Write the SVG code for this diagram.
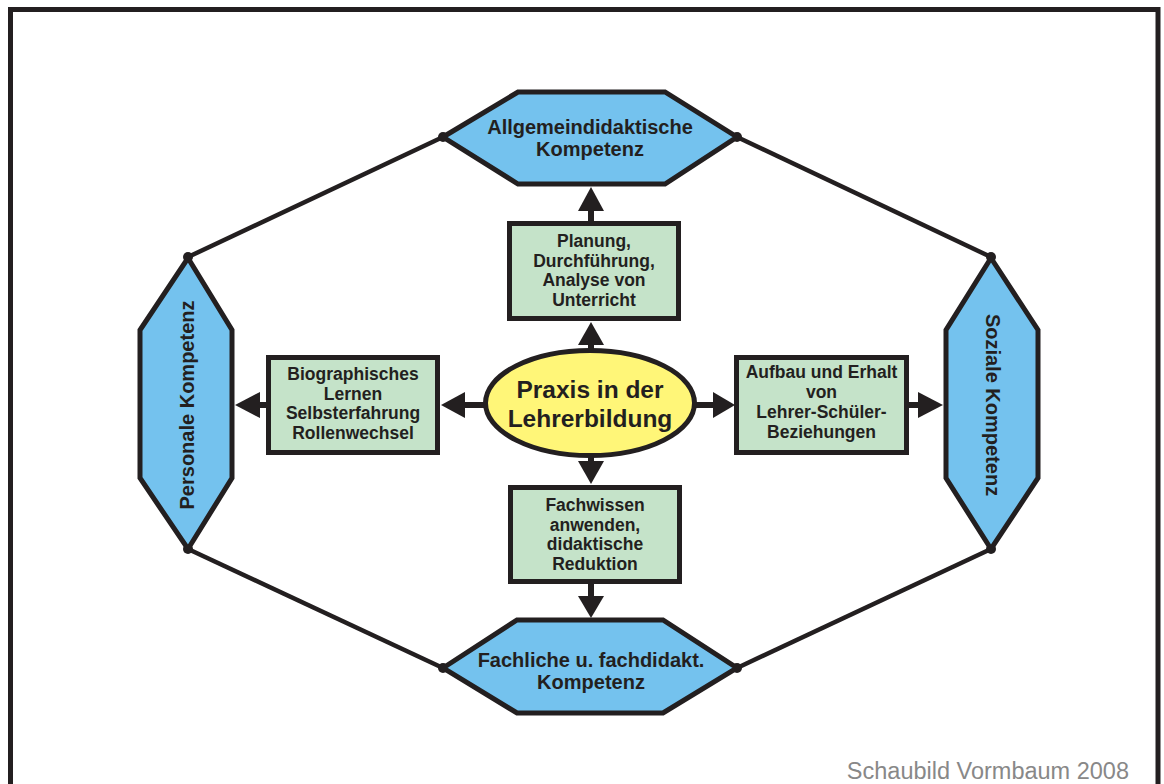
<svg xmlns="http://www.w3.org/2000/svg" width="1164" height="784" viewBox="0 0 1164 784">
<style>
.hex{fill:#74C2EE;stroke:#231F20;stroke-width:5;stroke-linejoin:miter}
.box{fill:#C5E3C9;stroke:#231F20;stroke-width:5}
.ell{fill:#FFF678;stroke:#231F20;stroke-width:5}
.t{font-family:"Liberation Sans",Arial,sans-serif;font-weight:bold;fill:#231F20;text-anchor:middle}
.hx{font-size:20px}
.bx{font-size:17.5px}
.line{stroke:#231F20;stroke-width:4.5;fill:none}
.shaft{stroke:#231F20;stroke-width:6;fill:none}
.head{fill:#231F20}
.dot{fill:#231F20}
</style>
<rect width="1164" height="784" fill="#ffffff"/>
<rect x="10.5" y="9.5" width="1147.5" height="800" fill="none" stroke="#231F20" stroke-width="5"/>

<g id="connectors">
<line class="line" x1="443" y1="137" x2="188" y2="257"/>
<line class="line" x1="737" y1="137" x2="991" y2="257"/>
<line class="line" x1="188" y1="549" x2="443" y2="668"/>
<line class="line" x1="991" y1="549" x2="737" y2="668"/>
<circle class="dot" cx="443" cy="137" r="5"/>
<circle class="dot" cx="737" cy="137" r="5"/>
<circle class="dot" cx="188" cy="257" r="5"/>
<circle class="dot" cx="991" cy="257" r="5"/>
<circle class="dot" cx="188" cy="549" r="5"/>
<circle class="dot" cx="991" cy="549" r="5"/>
<circle class="dot" cx="443" cy="668" r="5"/>
<circle class="dot" cx="737" cy="668" r="5"/>
<line class="shaft" x1="591" y1="352" x2="591" y2="343"/>
<polygon class="head" points="591,322 604,345 578,345"/>
<line class="shaft" x1="591" y1="222" x2="591" y2="209"/>
<polygon class="head" points="591,187 604,211 578,211"/>
<line class="shaft" x1="591" y1="454" x2="591" y2="463"/>
<polygon class="head" points="591,484 604,461 578,461"/>
<line class="shaft" x1="591" y1="584" x2="591" y2="598"/>
<polygon class="head" points="591,618 604,596 578,596"/>
<line class="shaft" x1="487" y1="405" x2="463" y2="405"/>
<polygon class="head" points="441,405 465,392 465,418"/>
<line class="shaft" x1="267" y1="405" x2="258" y2="405"/>
<polygon class="head" points="235,405 260,392 260,418"/>
<line class="shaft" x1="693" y1="405" x2="715" y2="405"/>
<polygon class="head" points="735,405 713,392 713,418"/>
<line class="shaft" x1="908" y1="405" x2="920" y2="405"/>
<polygon class="head" points="943,405 918,392 918,418"/>
</g>

<g id="node-allgemein">
<polygon class="hex" points="443,137 518,92 665,92 737,137 665,184 518,184"/>
<text class="t hx" x="590" y="134">Allgemeindidaktische</text>
<text class="t hx" x="590" y="156">Kompetenz</text>
</g>

<g id="node-fachlich">
<polygon class="hex" points="443,668 517,620 663,620 737,668 663,713 517,713"/>
<text class="t hx" x="591" y="667">Fachliche u. fachdidakt.</text>
<text class="t hx" x="591" y="689">Kompetenz</text>
</g>

<g id="node-personal">
<polygon class="hex" points="188,258 232,330 232,478 188,549 140,478 140,330"/>
<text class="t hx" transform="translate(194,405) rotate(-90)" x="0" y="0">Personale Kompetenz</text>
</g>

<g id="node-sozial">
<polygon class="hex" points="991,258 1038,330 1038,478 991,549 946,478 946,330"/>
<text class="t hx" transform="translate(986,405) rotate(90)" x="0" y="0">Soziale Kompetenz</text>
</g>

<g id="node-planung">
<rect class="box" x="509.5" y="223.5" width="169" height="95"/>
<text class="t bx" x="594" y="247">Planung,</text>
<text class="t bx" x="594" y="266.5">Durchführung,</text>
<text class="t bx" x="594" y="286">Analyse von</text>
<text class="t bx" x="594" y="305.5">Unterricht</text>
</g>

<g id="node-fachwissen">
<rect class="box" x="510.5" y="487.5" width="169" height="94"/>
<text class="t bx" x="595" y="511">Fachwissen</text>
<text class="t bx" x="595" y="530.5">anwenden,</text>
<text class="t bx" x="595" y="550">didaktische</text>
<text class="t bx" x="595" y="569.5">Reduktion</text>
</g>

<g id="node-bio">
<rect class="box" x="268.5" y="357.5" width="169" height="95"/>
<text class="t bx" x="353" y="380">Biographisches</text>
<text class="t bx" x="353" y="399.5">Lernen</text>
<text class="t bx" x="353" y="419">Selbsterfahrung</text>
<text class="t bx" x="353" y="438.5">Rollenwechsel</text>
</g>

<g id="node-aufbau">
<rect class="box" x="736.5" y="357.5" width="170" height="95"/>
<text class="t bx" x="821.5" y="378">Aufbau und Erhalt</text>
<text class="t bx" x="821.5" y="398">von</text>
<text class="t bx" x="821.5" y="418">Lehrer-Schüler-</text>
<text class="t bx" x="821.5" y="438">Beziehungen</text>
</g>

<g id="node-praxis">
<ellipse class="ell" cx="590" cy="403" rx="104.5" ry="52.5"/>
<text class="t" style="font-size:24.5px" x="590" y="398">Praxis in der</text>
<text class="t" style="font-size:24.5px" x="590" y="427">Lehrerbildung</text>
</g>

<text x="1129" y="779" style="font-family:'Liberation Sans',Arial,sans-serif;font-size:23.5px;fill:#888888;text-anchor:end">Schaubild Vormbaum 2008</text>
</svg>
